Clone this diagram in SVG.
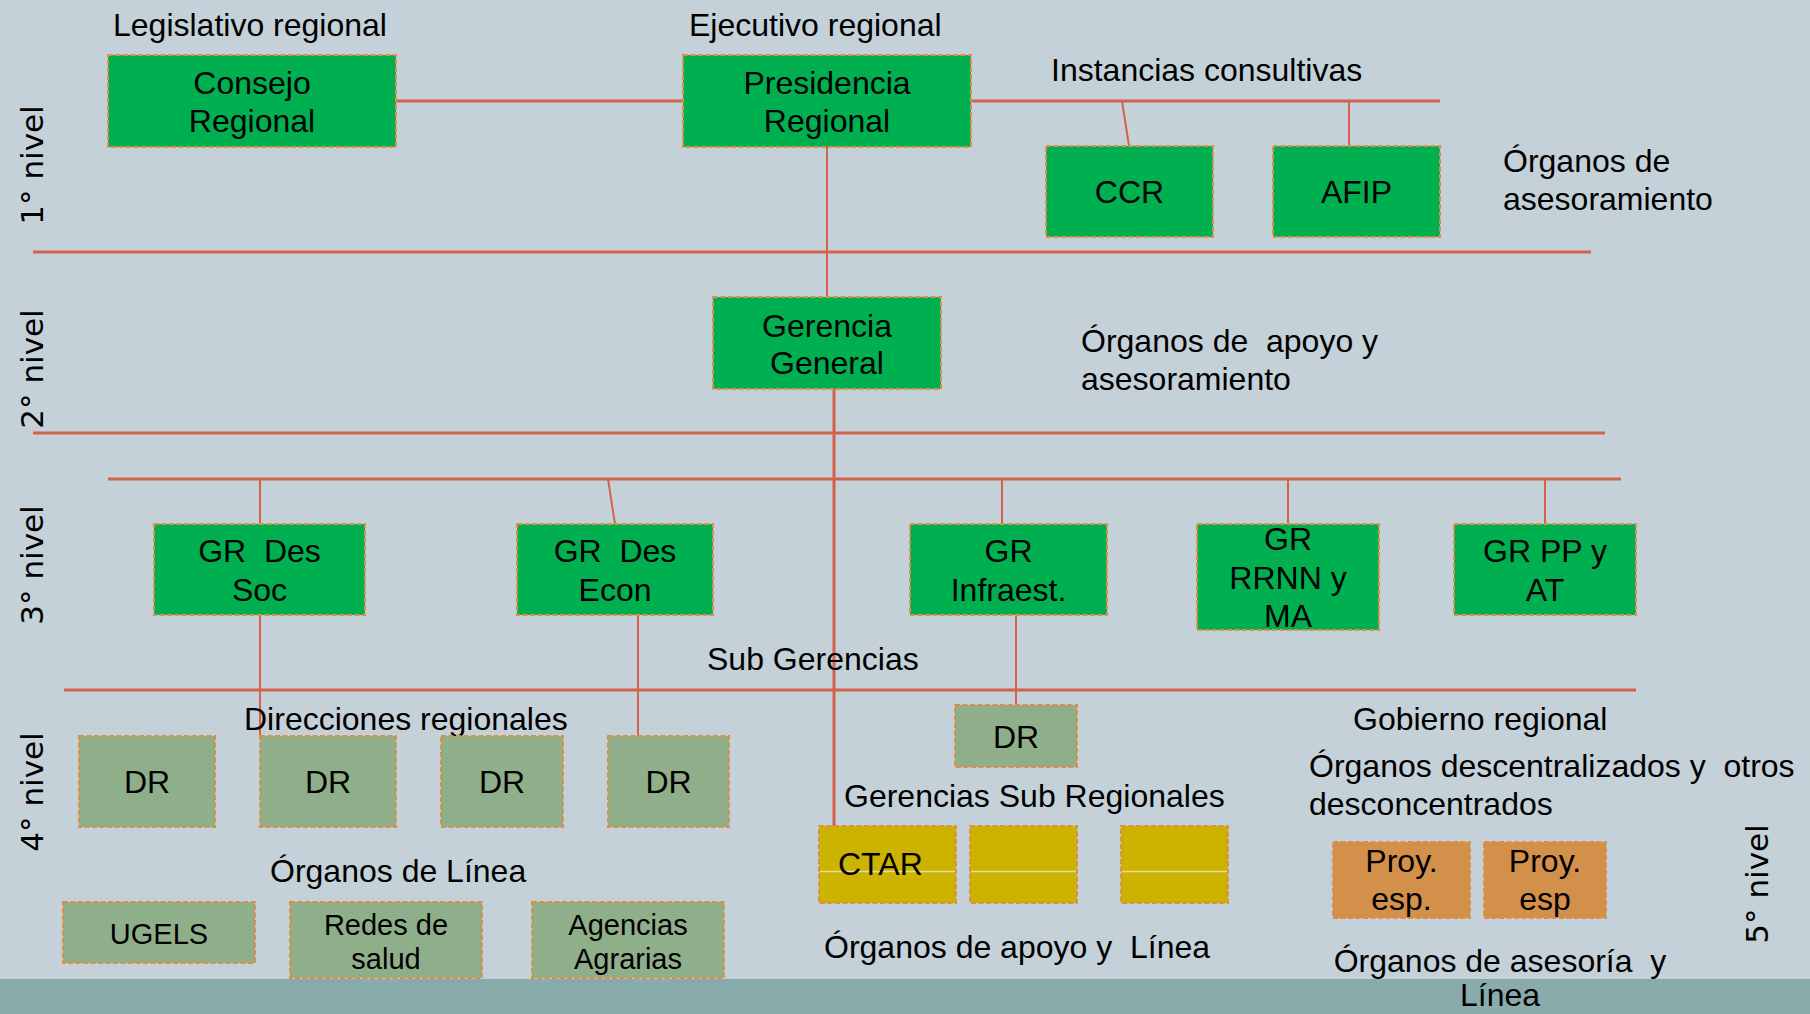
<svg xmlns="http://www.w3.org/2000/svg" width="1810" height="1014" viewBox="0 0 1810 1014">
<style>
.bx{stroke:#dd8f48;stroke-width:2;stroke-dasharray:5 2.5}
.g{fill:#00b050}
.d{fill:#8faf8a}
.y{fill:#ccb300}
.o{fill:#d3904a}
text{font-family:"Liberation Sans",Arial,sans-serif;font-size:32px;fill:#000}
.c{text-anchor:middle}
.s{font-size:29px}
.lv{font-family:"DejaVu Sans",Verdana,sans-serif;font-size:31px;text-anchor:middle}
.ln{stroke:#d5614a;fill:none}
.t3{stroke-width:3}
.t2{stroke-width:2}
</style>
<rect width="1810" height="1014" fill="#c5d1d8"/>
<rect x="0" y="979" width="1810" height="35" fill="#89abab"/>

<g id="connectors" class="ln">
<line class="t3" x1="396" y1="101" x2="683" y2="101"/>
<line class="t3" x1="971" y1="101" x2="1440" y2="101"/>
<line class="t2" x1="1122" y1="101" x2="1129" y2="146"/>
<line class="t2" x1="1349" y1="101" x2="1349" y2="146"/>
<line class="t2" x1="827" y1="147" x2="827" y2="297"/>
<line class="t3" x1="834" y1="389" x2="834" y2="826"/>
<line class="t3" x1="33" y1="252" x2="1591" y2="252"/>
<line class="t3" x1="33" y1="433" x2="1605" y2="433"/>
<line class="t3" x1="64" y1="690" x2="1636" y2="690"/>
<line class="t3" x1="108" y1="479" x2="1621" y2="479"/>
<line class="t2" x1="260" y1="479" x2="260" y2="524"/>
<line class="t2" x1="260" y1="615" x2="260" y2="736"/>
<line class="t2" x1="608" y1="479" x2="615" y2="524"/>
<line class="t2" x1="638" y1="615" x2="638" y2="736"/>
<line class="t2" x1="1002" y1="479" x2="1002" y2="524"/>
<line class="t2" x1="1016" y1="615" x2="1016" y2="705"/>
<line class="t2" x1="1288" y1="479" x2="1288" y2="524"/>
<line class="t2" x1="1545" y1="479" x2="1545" y2="524"/>
</g>

<g id="labels">
<text x="113" y="36">Legislativo regional</text>
<text x="689" y="36">Ejecutivo regional</text>
<text x="1051" y="81">Instancias consultivas</text>
<text x="1503" y="172">Órganos de</text>
<text x="1503" y="210">asesoramiento</text>
<text x="1081" y="352" xml:space="preserve">Órganos de  apoyo y</text>
<text x="1081" y="390">asesoramiento</text>
<text x="707" y="670">Sub Gerencias</text>
<text x="244" y="730">Direcciones regionales</text>
<text x="270" y="882">Órganos de Línea</text>
<text x="844" y="807">Gerencias Sub Regionales</text>
<text x="824" y="958" xml:space="preserve">Órganos de apoyo y  Línea</text>
<text x="1353" y="730">Gobierno regional</text>
<text x="1309" y="777" xml:space="preserve">Órganos descentralizados y  otros</text>
<text x="1309" y="815">desconcentrados</text>
<text class="c" x="1500" y="972" xml:space="preserve">Órganos de asesoría  y</text>
<text class="c" x="1500" y="1006">Línea</text>
<text class="lv" transform="translate(43,165) rotate(-90)">1° nivel</text>
<text class="lv" transform="translate(43,369) rotate(-90)">2° nivel</text>
<text class="lv" transform="translate(43,565) rotate(-90)">3° nivel</text>
<text class="lv" transform="translate(43,792) rotate(-90)">4° nivel</text>
<text class="lv" transform="translate(1768,884) rotate(-90)">5° nivel</text>
</g>

<g id="consejo"><rect class="bx g" x="108" y="55" width="288" height="92"/><text class="c" x="252" y="94">Consejo</text><text class="c" x="252" y="132">Regional</text></g>
<g id="presidencia"><rect class="bx g" x="683" y="55" width="288" height="92"/><text class="c" x="827" y="94">Presidencia</text><text class="c" x="827" y="132">Regional</text></g>
<g id="ccr"><rect class="bx g" x="1046" y="146" width="167" height="91"/><text class="c" x="1129.5" y="203">CCR</text></g>
<g id="afip"><rect class="bx g" x="1273" y="146" width="167" height="91"/><text class="c" x="1356.5" y="203">AFIP</text></g>
<g id="gerencia"><rect class="bx g" x="713" y="297" width="228" height="92"/><text class="c" x="827" y="337">Gerencia</text><text class="c" x="827" y="374">General</text></g>
<g id="gr-soc"><rect class="bx g" x="154" y="524" width="211" height="91"/><text class="c" x="259.5" y="562" xml:space="preserve">GR  Des</text><text class="c" x="259.5" y="601">Soc</text></g>
<g id="gr-econ"><rect class="bx g" x="517" y="524" width="196" height="91"/><text class="c" x="615" y="562" xml:space="preserve">GR  Des</text><text class="c" x="615" y="601">Econ</text></g>
<g id="gr-infra"><rect class="bx g" x="910" y="524" width="197" height="91"/><text class="c" x="1008.5" y="562">GR</text><text class="c" x="1008.5" y="601">Infraest.</text></g>
<g id="gr-rrnn"><rect class="bx g" x="1197" y="524" width="182" height="106"/><text class="c" x="1288" y="550">GR</text><text class="c" x="1288" y="589">RRNN y</text><text class="c" x="1288" y="627">MA</text></g>
<g id="gr-pp"><rect class="bx g" x="1454" y="524" width="182" height="91"/><text class="c" x="1545" y="562">GR PP y</text><text class="c" x="1545" y="601">AT</text></g>

<g id="dr1"><rect class="bx d" x="79" y="736" width="136" height="91"/><text class="c" x="147" y="793">DR</text></g>
<g id="dr2"><rect class="bx d" x="260" y="736" width="136" height="91"/><text class="c" x="328" y="793">DR</text></g>
<g id="dr3"><rect class="bx d" x="441" y="736" width="122" height="91"/><text class="c" x="502" y="793">DR</text></g>
<g id="dr4"><rect class="bx d" x="608" y="736" width="121" height="91"/><text class="c" x="668.5" y="793">DR</text></g>
<g id="dr5"><rect class="bx d" x="955" y="705" width="122" height="62"/><text class="c" x="1016" y="748">DR</text></g>

<g id="ugels"><rect class="bx d" x="63" y="902" width="192" height="61"/><text class="c s" x="159" y="944">UGELS</text></g>
<g id="redes"><rect class="bx d" x="290" y="902" width="192" height="76"/><text class="c s" x="386" y="935">Redes de</text><text class="c s" x="386" y="969">salud</text></g>
<g id="agencias"><rect class="bx d" x="532" y="902" width="192" height="76"/><text class="c s" x="628" y="935">Agencias</text><text class="c s" x="628" y="969">Agrarias</text></g>

<g id="ctar"><rect class="bx y" x="819" y="826" width="137" height="77"/><line x1="820" y1="871.5" x2="955" y2="871.5" stroke="#e6dca0" stroke-width="1.5"/><text x="838" y="875">CTAR</text></g>
<g id="gsr2"><rect class="bx y" x="970" y="826" width="107" height="77"/><line x1="971" y1="871.5" x2="1076" y2="871.5" stroke="#e6dca0" stroke-width="1.5"/></g>
<g id="gsr3"><rect class="bx y" x="1121" y="826" width="107" height="77"/><line x1="1122" y1="871.5" x2="1227" y2="871.5" stroke="#e6dca0" stroke-width="1.5"/></g>

<g id="proy1"><rect class="bx o" x="1333" y="842" width="137" height="76"/><text class="c" x="1401.5" y="872">Proy.</text><text class="c" x="1401.5" y="910">esp.</text></g>
<g id="proy2"><rect class="bx o" x="1484" y="842" width="122" height="76"/><text class="c" x="1545" y="872">Proy.</text><text class="c" x="1545" y="910">esp</text></g>
</svg>
